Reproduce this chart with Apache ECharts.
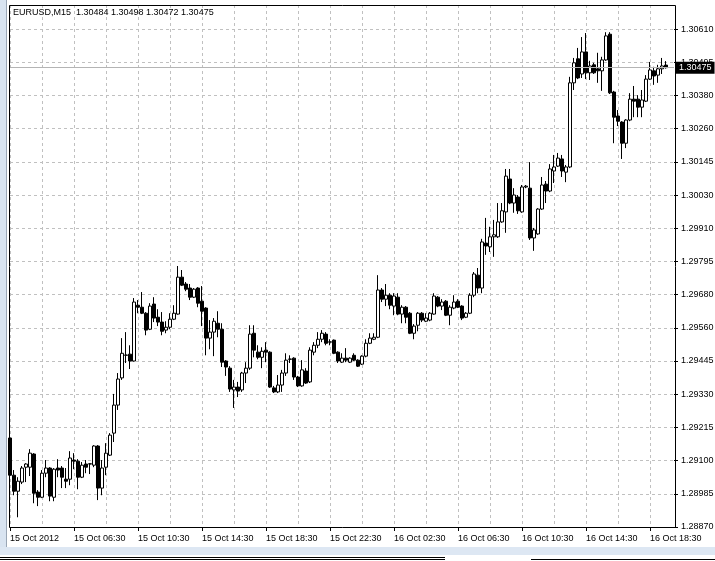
<!DOCTYPE html>
<html><head><meta charset="utf-8">
<script src="https://cdn.jsdelivr.net/npm/echarts@6/dist/echarts.min.js"></script>
<style>html,body{margin:0;padding:0;background:#fff}#c{width:715px;height:561px}</style>
</head><body><div id="c"></div>
<script>
const symbol = 'EURUSD';
const period = 'M15';
const startUTC = Date.UTC(2012, 9, 15, 2, 30);
const stepMinutes = 15;

const xTickLabels = ['15 Oct 2012','15 Oct 06:30','15 Oct 10:30','15 Oct 14:30','15 Oct 18:30','15 Oct 22:30','16 Oct 02:30','16 Oct 06:30','16 Oct 10:30','16 Oct 14:30','16 Oct 18:30'];
const yTickLabels = ['1.28870','1.28985','1.29100','1.29215','1.29330','1.29445','1.29560','1.29680','1.29795','1.29910','1.30030','1.30145','1.30260','1.30380','1.30495','1.30610'];
const yMin = 1.28870, yStep = 0.00116, yMax = 1.30694;

const opens = [
1.29181,1.29051,1.28995,1.29027,1.29079,1.29079,1.29125,1.28992,1.28974,1.29058,
1.29076,1.28974,1.29076,1.29076,1.29037,1.29037,1.29104,1.29100,1.29044,1.29090,
1.29090,1.29086,1.29153,1.29006,1.29079,1.29121,1.29198,1.29296,1.29391,1.29470,
1.29474,1.29450,1.29645,1.29638,1.29617,1.29561,1.29649,1.29603,1.29586,1.29558,
1.29568,1.29596,1.29614,1.29743,1.29719,1.29705,1.29673,1.29705,1.29659,1.29635,
1.29530,1.29551,1.29582,1.29561,1.29450,1.29425,1.29349,1.29359,1.29349,1.29408,
1.29425,1.29547,1.29481,1.29463,1.29488,1.29481,1.29356,1.29342,1.29366,1.29408,
1.29456,1.29460,1.29394,1.29363,1.29415,1.29377,1.29481,1.29505,1.29526,1.29544,
1.29516,1.29523,1.29481,1.29446,1.29460,1.29446,1.29470,1.29453,1.29439,1.29467,
1.29512,1.29526,1.29533,1.29698,1.29666,1.29680,1.29642,1.29673,1.29614,1.29638,
1.29617,1.29547,1.29575,1.29617,1.29589,1.29593,1.29614,1.29673,1.29642,1.29659,
1.29610,1.29635,1.29659,1.29642,1.29603,1.29617,1.29680,1.29750,1.29705,1.29862,
1.29849,1.29884,1.29884,1.29936,1.29971,1.30086,1.30002,1.30023,1.29971,1.30058,
1.30054,1.29880,1.29894,1.29981,1.30068,1.30044,1.30114,1.30131,1.30156,1.30110,
1.30128,1.30422,1.30506,1.30453,1.30530,1.30457,1.30485,1.30471,1.30464,1.30502,
1.30592,1.30390,1.30306,1.30285,1.30211,1.30292,1.30365,1.30365,1.30337,1.30358,
1.30435,1.30464,1.30449,1.30471,1.30484];
const closes = [
1.29051,1.28995,1.29030,1.29076,1.29090,1.29128,1.28988,1.28974,1.29058,1.29076,
1.28978,1.29072,1.29069,1.29044,1.29030,1.29111,1.29100,1.29044,1.29086,1.29079,
1.29091,1.29153,1.29006,1.29076,1.29128,1.29191,1.29296,1.29387,1.29477,1.29471,
1.29450,1.29656,1.29638,1.29617,1.29558,1.29642,1.29600,1.29586,1.29554,1.29568,
1.29596,1.29617,1.29743,1.29715,1.29701,1.29673,1.29701,1.29652,1.29624,1.29530,
1.29551,1.29589,1.29561,1.29446,1.29429,1.29352,1.29359,1.29345,1.29408,1.29425,
1.29544,1.29488,1.29463,1.29484,1.29481,1.29359,1.29342,1.29366,1.29408,1.29453,
1.29457,1.29394,1.29363,1.29419,1.29373,1.29488,1.29505,1.29526,1.29547,1.29512,
1.29517,1.29477,1.29450,1.29460,1.29453,1.29460,1.29453,1.29432,1.29467,1.29512,
1.29530,1.29533,1.29698,1.29666,1.29680,1.29645,1.29677,1.29614,1.29638,1.29603,
1.29547,1.29572,1.29617,1.29593,1.29600,1.29617,1.29677,1.29642,1.29656,1.29610,
1.29638,1.29656,1.29638,1.29600,1.29617,1.29680,1.29754,1.29705,1.29866,1.29852,
1.29884,1.29891,1.29936,1.29975,1.30096,1.30002,1.30030,1.29975,1.30058,1.30061,
1.29880,1.29908,1.29981,1.30065,1.30044,1.30121,1.30128,1.30159,1.30114,1.30128,
1.30422,1.30492,1.30439,1.30530,1.30457,1.30481,1.30457,1.30464,1.30502,1.30586,
1.30387,1.30302,1.30288,1.30211,1.30292,1.30365,1.30358,1.30337,1.30362,1.30435,
1.30467,1.30446,1.30471,1.30481,1.30475];
const lows = [
1.29044,1.28981,1.28904,1.29020,1.29027,1.29048,1.28953,1.28943,1.28971,1.29044,
1.28960,1.28960,1.29044,1.29006,1.29006,1.29016,1.29072,1.29002,1.29041,1.29058,
1.29055,1.29079,1.28964,1.28981,1.29051,1.29118,1.29167,1.29279,1.29384,1.29443,
1.29422,1.29448,1.29617,1.29614,1.29540,1.29558,1.29586,1.29572,1.29540,1.29547,
1.29561,1.29593,1.29612,1.29712,1.29694,1.29663,1.29670,1.29638,1.29572,1.29470,
1.29491,1.29467,1.29533,1.29429,1.29398,1.29342,1.29286,1.29324,1.29342,1.29373,
1.29419,1.29463,1.29456,1.29425,1.29446,1.29356,1.29338,1.29338,1.29342,1.29398,
1.29443,1.29384,1.29359,1.29360,1.29370,1.29373,1.29470,1.29495,1.29516,1.29505,
1.29505,1.29474,1.29443,1.29443,1.29446,1.29443,1.29450,1.29429,1.29436,1.29463,
1.29509,1.29523,1.29530,1.29656,1.29642,1.29631,1.29610,1.29610,1.29582,1.29582,
1.29544,1.29526,1.29554,1.29586,1.29586,1.29589,1.29612,1.29638,1.29628,1.29607,
1.29575,1.29631,1.29635,1.29593,1.29600,1.29614,1.29673,1.29687,1.29687,1.29821,
1.29831,1.29814,1.29880,1.29933,1.29898,1.29998,1.29968,1.29964,1.29968,1.30054,
1.29873,1.29835,1.29891,1.29978,1.30002,1.30040,1.30072,1.30128,1.30093,1.30075,
1.30124,1.30397,1.30435,1.30439,1.30435,1.30432,1.30453,1.30422,1.30394,1.30499,
1.30383,1.30211,1.30271,1.30156,1.30194,1.30288,1.30302,1.30302,1.30302,1.30355,
1.30432,1.30415,1.30422,1.30453,1.30472];
const highs = [
1.29188,1.29069,1.29044,1.29083,1.29093,1.29142,1.29128,1.28999,1.29069,1.29104,
1.29079,1.29076,1.29107,1.29083,1.29076,1.29135,1.29128,1.29107,1.29097,1.29104,
1.29093,1.29156,1.29156,1.29104,1.29163,1.29198,1.29335,1.29408,1.29530,1.29551,
1.29505,1.29670,1.29663,1.29691,1.29621,1.29652,1.29673,1.29631,1.29621,1.29589,
1.29617,1.29645,1.29782,1.29768,1.29726,1.29719,1.29705,1.29708,1.29712,1.29638,
1.29593,1.29600,1.29624,1.29582,1.29453,1.29432,1.29384,1.29377,1.29412,1.29446,
1.29575,1.29575,1.29505,1.29498,1.29516,1.29484,1.29363,1.29401,1.29419,1.29477,
1.29470,1.29463,1.29398,1.29453,1.29425,1.29498,1.29516,1.29551,1.29558,1.29551,
1.29526,1.29525,1.29484,1.29477,1.29495,1.29463,1.29477,1.29456,1.29470,1.29526,
1.29547,1.29547,1.29750,1.29705,1.29719,1.29687,1.29687,1.29687,1.29645,1.29642,
1.29621,1.29579,1.29621,1.29621,1.29617,1.29621,1.29687,1.29677,1.29666,1.29663,
1.29645,1.29680,1.29666,1.29645,1.29621,1.29687,1.29761,1.29775,1.29877,1.29950,
1.29919,1.29943,1.30002,1.30002,1.30121,1.30121,1.30054,1.30030,1.30065,1.30065,
1.30145,1.29915,1.29984,1.30093,1.30079,1.30138,1.30170,1.30177,1.30170,1.30135,
1.30443,1.30509,1.30544,1.30582,1.30596,1.30499,1.30492,1.30527,1.30513,1.30599,
1.30599,1.30394,1.30327,1.30288,1.30295,1.30386,1.30411,1.30379,1.30397,1.30449,
1.30495,1.30478,1.30485,1.30509,1.30498];

// time categories (15-minute bars), plus two empty slots of chart shift
const pad = n => (n < 10 ? '0' : '') + n;
const categories = [];
for (let i = 0; i < opens.length + 2; i++) {
  const d = new Date(startUTC + i * stepMinutes * 60000);
  categories.push(d.getUTCFullYear() + '.' + pad(d.getUTCMonth() + 1) + '.' + pad(d.getUTCDate()) + ' ' + pad(d.getUTCHours()) + ':' + pad(d.getUTCMinutes()));
}
const ohlc = opens.map((o, i) => [o, closes[i], lows[i], highs[i]]);
const last = opens.length - 1;
const lastClose = closes[last];
const titleText = symbol + ',' + period + '  ' + [opens[last], highs[last], lows[last], closes[last]].map(v => v.toFixed(5)).join(' ');

const FONT = 'Liberation Sans';
const gridLine = { show: true, lineStyle: { color: '#c0c0c0', width: 1, type: [3, 3] } };

const chart = echarts.init(document.getElementById('c'), null, { renderer: 'canvas' });
chart.setOption({
  animation: false,
  backgroundColor: '#ffffff',
  title: { text: titleText, left: 8, top: 3, textStyle: { fontFamily: FONT, fontSize: 9, fontWeight: 'normal', color: '#000' } },
  grid: { left: 10, right: 41, top: 5, bottom: 34, containLabel: false, outerBoundsMode: 'none' },
  xAxis: {
    type: 'category', data: categories, boundaryGap: false,
    axisLine: { show: false },
    axisTick: { show: true, length: 4, interval: (i) => i % 16 === 0, lineStyle: { color: '#000' } },
    axisLabel: { interval: (i) => i % 16 === 0, align: 'left', margin: 7, color: '#000', fontFamily: FONT, fontSize: 9,
      formatter: (v, i) => xTickLabels[i / 16] || '' },
    splitLine: Object.assign({ interval: (i) => i % 8 === 0 }, gridLine)
  },
  yAxis: {
    type: 'value', position: 'right', min: yMin, max: yMax, interval: yStep, scale: true,
    axisLine: { show: false },
    axisTick: { show: true, length: 4, lineStyle: { color: '#000' } },
    axisLabel: { margin: 7, color: '#000', fontFamily: FONT, fontSize: 9, showMaxLabel: false,
      formatter: (v) => { const k = Math.round((v - yMin) / yStep); return (k >= 0 && k < yTickLabels.length && Math.abs(v - (yMin + k * yStep)) < 1e-7) ? yTickLabels[k] : ''; } },
    splitLine: gridLine
  },
  series: [{
    type: 'candlestick', data: ohlc, barWidth: 3,
    itemStyle: { color: '#ffffff', color0: '#000000', borderColor: '#000000', borderColor0: '#000000', borderWidth: 1 },
    markLine: {
      silent: true, symbol: 'none', animation: false,
      lineStyle: { color: '#b4b4b4', type: 'solid', width: 1 },
      label: { position: 'end', distance: 2, formatter: lastClose.toFixed(5), color: '#fff', backgroundColor: '#000', padding: [2, 3, 1, 3], fontFamily: FONT, fontSize: 9 },
      data: [[{ coord: [categories[0], lastClose] }, { coord: [categories[categories.length - 1], lastClose] }]]
    }
  }],
  graphic: [
    { type: 'rect', shape: { x: 0, y: 0, width: 6, height: 548 }, style: { fill: '#d9e4f1' }, z: 100, silent: true },
    { type: 'line', shape: { x1: 6.5, y1: 0, x2: 6.5, y2: 548 }, style: { stroke: '#9aa6b5', lineWidth: 1 }, z: 100, silent: true },
    { type: 'rect', shape: { x: 9.5, y: 5.5, width: 666, height: 522 }, style: { fill: null, stroke: '#000', lineWidth: 1 }, z: 100, silent: true },
    { type: 'rect', shape: { x: 0, y: 547, width: 715, height: 8 }, style: { fill: '#dde7f3' }, z: 100, silent: true },
    { type: 'line', shape: { x1: 0, y1: 557.5, x2: 445, y2: 557.5 }, style: { stroke: '#000', lineWidth: 1 }, z: 100, silent: true },
    { type: 'line', shape: { x1: 0, y1: 559.5, x2: 445, y2: 559.5 }, style: { stroke: '#000', lineWidth: 1 }, z: 100, silent: true },
    { type: 'line', shape: { x1: 531, y1: 559.5, x2: 715, y2: 559.5 }, style: { stroke: '#000', lineWidth: 1 }, z: 100, silent: true }
  ]
});
</script></body></html>
